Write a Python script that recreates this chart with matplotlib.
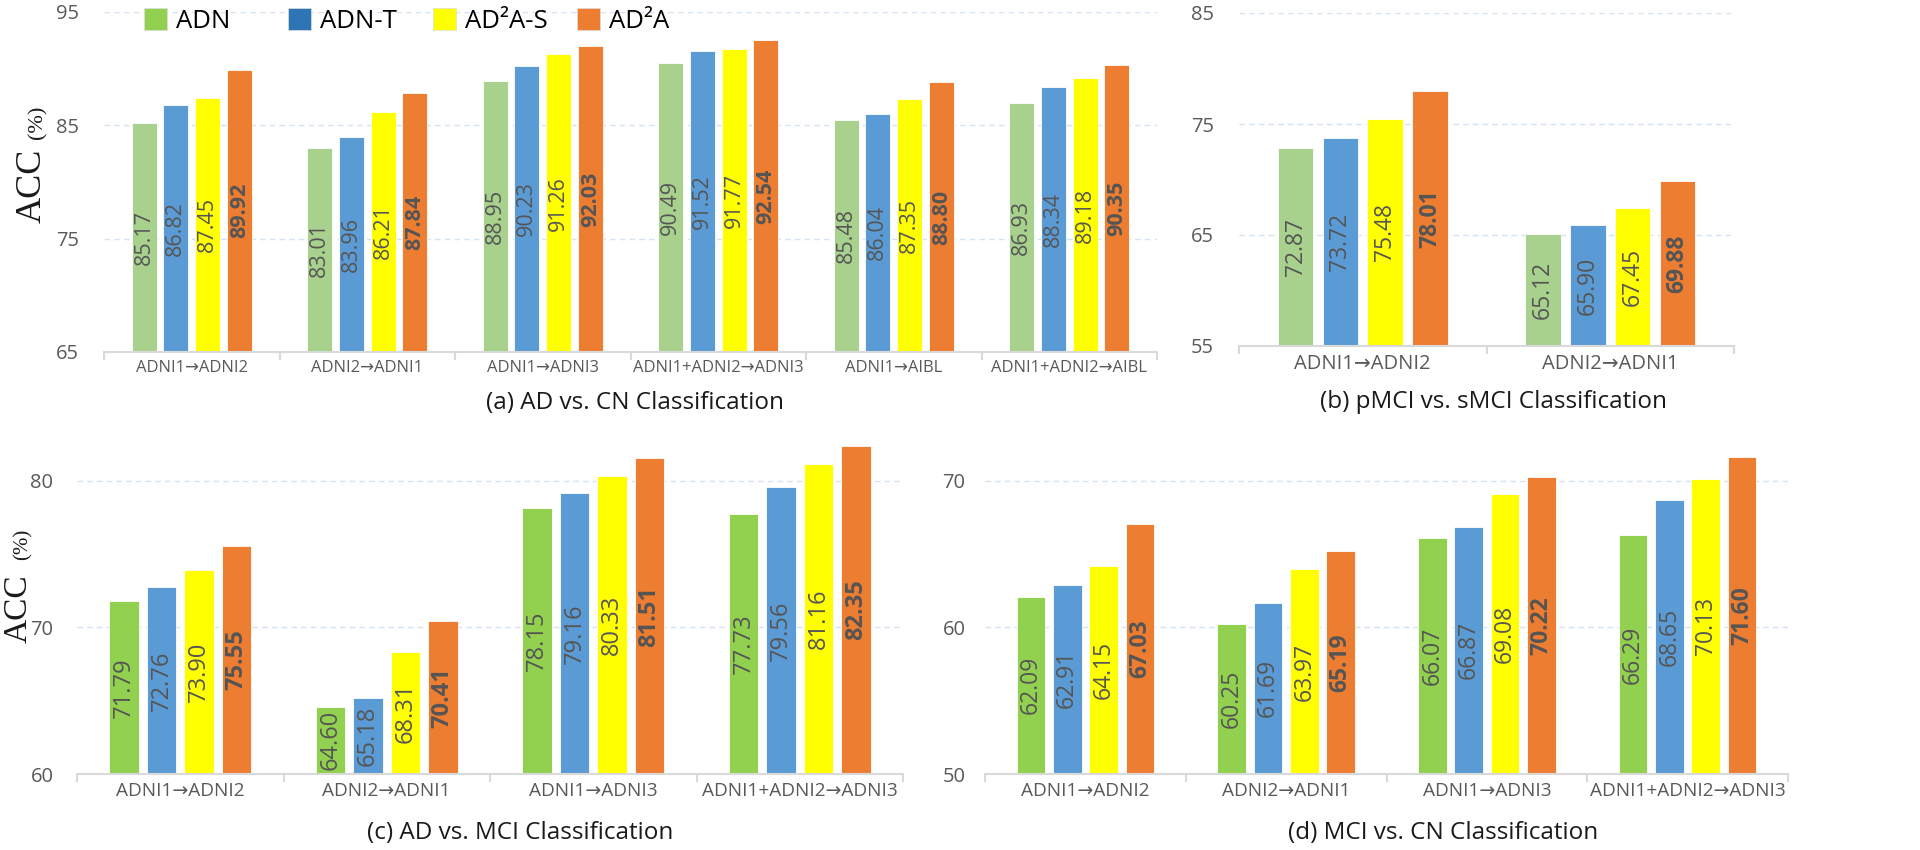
import matplotlib.pyplot as plt
from matplotlib.patches import Patch
import numpy as np

plt.rcParams['font.family'] = ['Open Sans', 'DejaVu Sans']

methods = ['ADN', 'ADN-T', 'AD²A-S', 'AD²A']

# (a) AD vs. CN
cats_a = ['ADNI1→ADNI2', 'ADNI2→ADNI1', 'ADNI1→ADNI3', 'ADNI1+ADNI2→ADNI3',
          'ADNI1→AIBL', 'ADNI1+ADNI2→AIBL']
adn_a = [85.17, 83.01, 88.95, 90.49, 85.48, 86.93]
adnt_a = [86.82, 83.96, 90.23, 91.52, 86.04, 88.34]
ad2as_a = [87.45, 86.21, 91.26, 91.77, 87.35, 89.18]
ad2a_a = [89.92, 87.84, 92.03, 92.54, 88.80, 90.35]

# (b) pMCI vs. sMCI
cats_b = ['ADNI1→ADNI2', 'ADNI2→ADNI1']
adn_b = [72.87, 65.12]
adnt_b = [73.72, 65.90]
ad2as_b = [75.48, 67.45]
ad2a_b = [78.01, 69.88]

# (c) AD vs. MCI
cats_c = ['ADNI1→ADNI2', 'ADNI2→ADNI1', 'ADNI1→ADNI3', 'ADNI1+ADNI2→ADNI3']
adn_c = [71.79, 64.60, 78.15, 77.73]
adnt_c = [72.76, 65.18, 79.16, 79.56]
ad2as_c = [73.90, 68.31, 80.33, 81.16]
ad2a_c = [75.55, 70.41, 81.51, 82.35]

# (d) MCI vs. CN
cats_d = ['ADNI1→ADNI2', 'ADNI2→ADNI1', 'ADNI1→ADNI3', 'ADNI1+ADNI2→ADNI3']
adn_d = [62.09, 60.25, 66.07, 66.29]
adnt_d = [62.91, 61.69, 66.87, 68.65]
ad2as_d = [64.15, 63.97, 69.08, 70.13]
ad2a_d = [67.03, 65.19, 70.22, 71.60]

W, H = 1920, 850
fig = plt.figure(figsize=(W / 100, H / 100), dpi=100)


def px_rect(left, right, bottom, top):
    # pixel box (y from top) -> figure fraction
    return [left / W, 1 - bottom / H, (right - left) / W, (bottom - top) / H]


def panel(rect, cats, series, ylim, yticks, green, lab_fs, cat_fs, cat_pad, ytick_pad):
    ax = fig.add_axes(rect)
    x = np.arange(len(cats))
    cols = [green, '#5B9BD5', '#FFFF00', '#ED7D31']
    step, bw = 0.181, 0.143
    for i, vals in enumerate(series):
        pos = x + (i - 1.5) * step
        ax.bar(pos, vals, width=bw, color=cols[i], edgecolor='white', linewidth=0.6, zorder=2)
        for p, v in zip(pos, vals):
            ax.text(p, (ylim[0] + v) / 2, '%.2f' % v, rotation=90, ha='center', va='center',
                    fontsize=lab_fs, color='#555555',
                    fontweight='bold' if i == 3 else 'normal', zorder=3)
    ax.set_xlim(-0.5, len(cats) - 0.5)
    ax.set_ylim(*ylim)
    ax.set_yticks(yticks)
    ax.yaxis.grid(True, linestyle=(0, (4, 3)), color='#D5E3F2', linewidth=1)
    ax.set_axisbelow(True)
    for s in ['top', 'right', 'left']:
        ax.spines[s].set_visible(False)
    ax.spines['bottom'].set_color('#D9D9D9')
    ax.spines['bottom'].set_linewidth(1.5)
    ax.set_xticks(x)
    ax.set_xticklabels(cats, fontsize=cat_fs, color='#595959')
    ax.set_xticks(np.arange(len(cats) + 1) - 0.5, minor=True)
    ax.tick_params(axis='x', which='major', length=0, pad=cat_pad)
    ax.tick_params(axis='x', which='minor', length=6, width=1.5, color='#D9D9D9')
    ax.tick_params(axis='y', length=0, pad=ytick_pad, labelsize=14.5, labelcolor='#595959')
    return ax


panel(px_rect(104, 1157, 352, 12), cats_a, [adn_a, adnt_a, ad2as_a, ad2a_a],
      (65, 95), [65, 75, 85, 95], '#A9D18E', 15.5, 12, 6, 18)
panel(px_rect(1239, 1734, 346, 13), cats_b, [adn_b, adnt_b, ad2as_b, ad2a_b],
      (55, 85), [55, 65, 75, 85], '#A9D18E', 16.5, 14.5, 6, 18)
panel(px_rect(77, 903, 774, 436.6), cats_c, [adn_c, adnt_c, ad2as_c, ad2a_c],
      (60, 83), [60, 70, 80], '#92D050', 17, 13.7, 6, 17)
panel(px_rect(985, 1788, 774, 436.6), cats_d, [adn_d, adnt_d, ad2as_d, ad2a_d],
      (50, 73), [50, 60, 70], '#92D050', 16.5, 13.7, 6, 14)

# panel captions
captions = ['(a) AD vs. CN Classification', '(b) pMCI vs. sMCI Classification',
            '(c) AD vs. MCI Classification', '(d) MCI vs. CN Classification']
cap_xy = [(635, 403), (1493, 402), (520, 833), (1443, 833)]
for t, (cx, cy) in zip(captions, cap_xy):
    fig.text(cx / W, 1 - cy / H, t, ha='center', va='center', fontsize=17.5, color='#1a1a1a')

# y labels
fig.text(49 / W, 1 - 186 / H, 'ACC', rotation=90, ha='right', va='center',
         family='Liberation Serif', fontsize=26, color='#1a1a1a')
fig.text(47 / W, 1 - 122 / H, '(%)', rotation=90, ha='right', va='center',
         family='Liberation Serif', fontsize=16, color='#1a1a1a')
fig.text(34 / W, 1 - 609 / H, 'ACC', rotation=90, ha='right', va='center',
         family='Liberation Serif', fontsize=24, color='#1a1a1a')
fig.text(33 / W, 1 - 544 / H, '(%)', rotation=90, ha='right', va='center',
         family='Liberation Serif', fontsize=15, color='#1a1a1a')

# legend, evenly spaced like the original
leg_cols = ['#92D050', '#2E75B6', '#FFFF00', '#ED7D31']
leg_x = [144, 288, 433, 577]
for m, c, lx in zip(methods, leg_cols, leg_x):
    fig.legend(handles=[Patch(facecolor=c, edgecolor='#dddddd', linewidth=0.5)], labels=[m],
               loc='center left', bbox_to_anchor=(lx / W, 1 - 21 / H), frameon=False,
               fontsize=18.5, handlelength=0.9, handleheight=0.9, handletextpad=0.35,
               borderpad=0, borderaxespad=0)

fig.savefig('out.png', dpi=100)
